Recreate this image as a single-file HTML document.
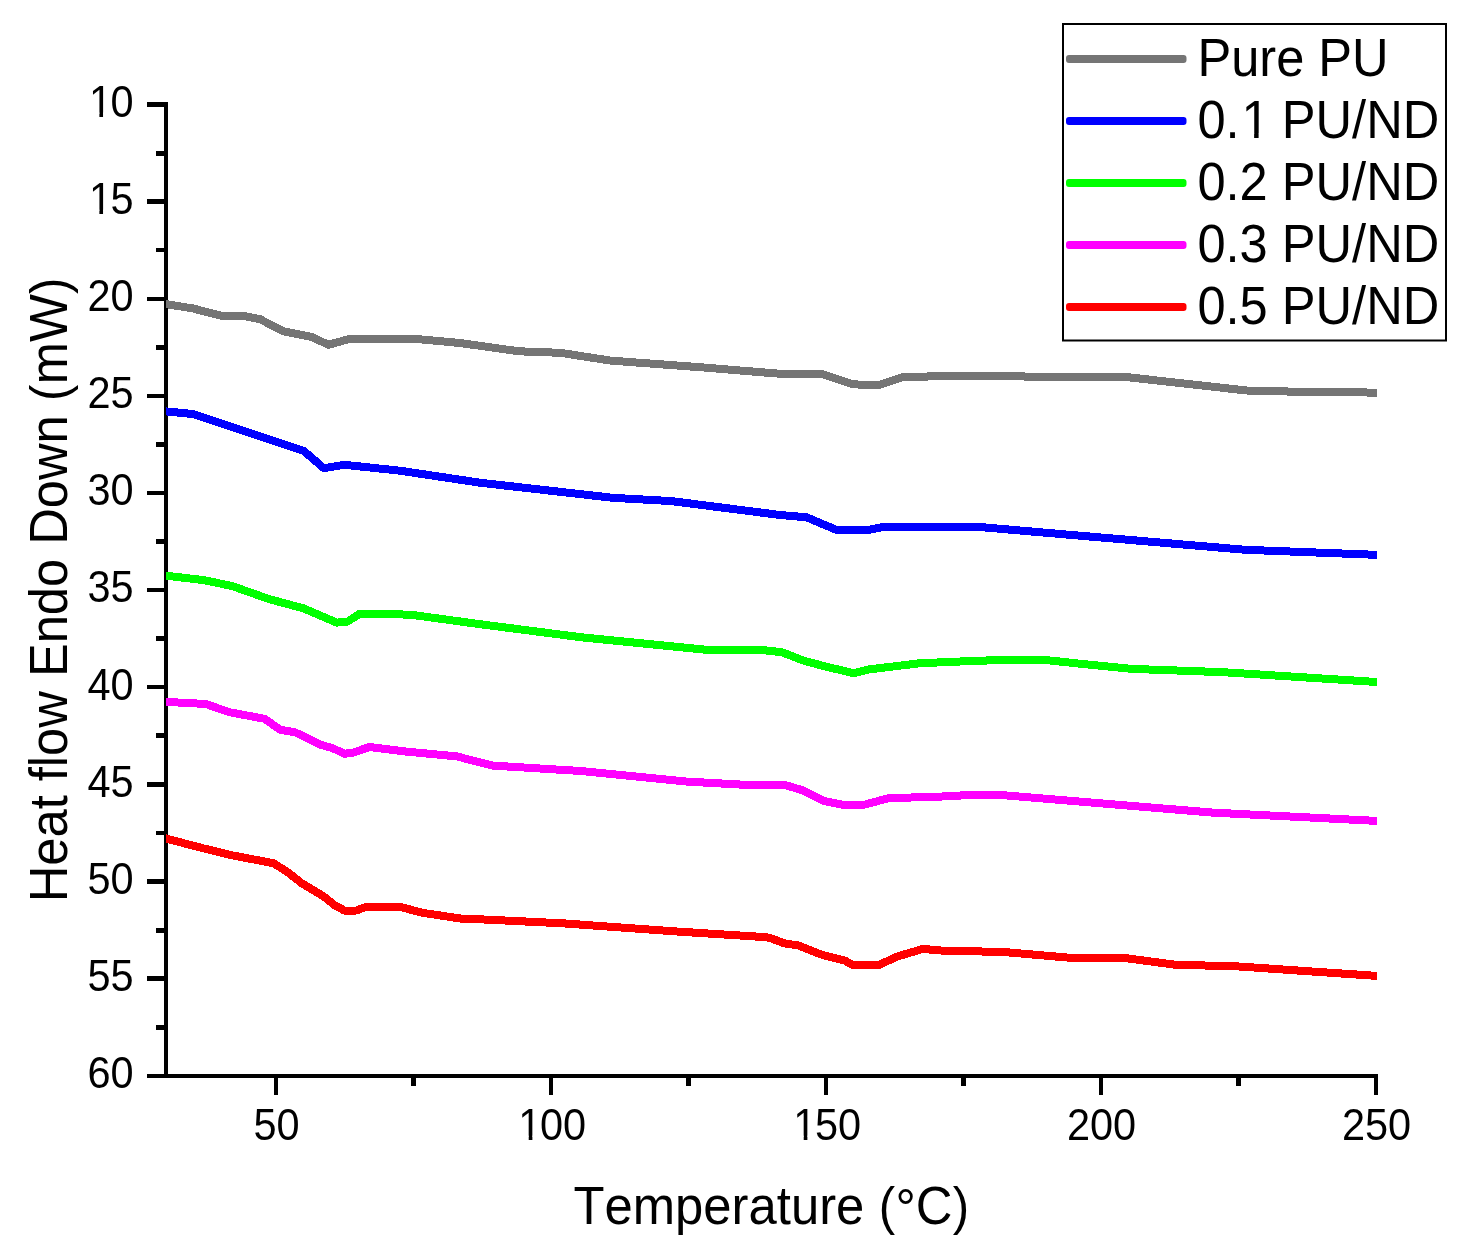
<!DOCTYPE html>
<html><head><meta charset="utf-8"><title>DSC curves</title>
<style>
html,body{margin:0;padding:0;background:#fff;}
body{width:1467px;height:1253px;overflow:hidden;}
svg{display:block;will-change:transform;}
text{font-family:"Liberation Sans",sans-serif;fill:#000;font-kerning:none;font-variant-ligatures:none;}
</style></head><body>
<svg width="1467" height="1253" viewBox="0 0 1467 1253">
<rect x="0" y="0" width="1467" height="1253" fill="#fff"/>
<g fill="#000" shape-rendering="crispEdges">
<rect x="164" y="102" width="4" height="976"/>
<rect x="164" y="1074" width="1214" height="4"/>
<rect x="147" y="102" width="17" height="5"/>
<rect x="156" y="151" width="8" height="5"/>
<rect x="147" y="199" width="17" height="5"/>
<rect x="156" y="248" width="8" height="4"/>
<rect x="147" y="297" width="17" height="4"/>
<rect x="156" y="345" width="8" height="5"/>
<rect x="147" y="394" width="17" height="4"/>
<rect x="156" y="442" width="8" height="5"/>
<rect x="147" y="491" width="17" height="4"/>
<rect x="156" y="539" width="8" height="5"/>
<rect x="147" y="588" width="17" height="4"/>
<rect x="156" y="636" width="8" height="5"/>
<rect x="147" y="685" width="17" height="4"/>
<rect x="156" y="733" width="8" height="5"/>
<rect x="147" y="782" width="17" height="5"/>
<rect x="156" y="831" width="8" height="4"/>
<rect x="147" y="879" width="17" height="5"/>
<rect x="156" y="928" width="8" height="5"/>
<rect x="147" y="976" width="17" height="5"/>
<rect x="156" y="1025" width="8" height="5"/>
<rect x="147" y="1074" width="17" height="4"/>
<rect x="274" y="1078" width="4" height="17"/>
<rect x="411" y="1078" width="5" height="8"/>
<rect x="549" y="1078" width="4" height="17"/>
<rect x="686" y="1078" width="5" height="8"/>
<rect x="824" y="1078" width="4" height="17"/>
<rect x="961" y="1078" width="5" height="8"/>
<rect x="1099" y="1078" width="4" height="17"/>
<rect x="1236" y="1078" width="5" height="8"/>
<rect x="1374" y="1078" width="4" height="17"/>
</g>
<defs>
<clipPath id="plotclip"><rect x="166" y="90" width="1211" height="1000"/></clipPath>
<path id="c-gray" d="M162.0,303.5 L166.0,304.1 L192.7,308.4 L222.2,316.0 L244.0,316.0 L260.3,319.3 L283.2,331.3 L312.0,337.0 L328.4,344.8 L349.4,338.9 L415.2,338.9 L460.0,343.0 L518.9,351.3 L560.3,352.8 L610.5,360.6 L700.0,367.2 L784.0,374.1 L822.2,374.1 L851.3,383.8 L862.0,384.9 L879.4,384.9 L903.6,376.9 L926.0,376.7 L934.0,375.8 L1019.6,375.8 L1026.0,376.7 L1123.3,376.7 L1246.5,390.5 L1291.2,391.6 L1343.6,391.6 L1376.8,392.9 L1381.0,393.1"/>
<path id="c-blue" d="M162.0,411.0 L166.0,411.4 L192.7,414.0 L303.6,450.8 L323.8,468.2 L344.3,464.8 L400.0,470.7 L480.0,482.7 L612.7,497.8 L671.6,501.1 L780.0,515.0 L806.5,517.3 L835.8,529.6 L868.5,529.9 L886.0,526.5 L973.8,526.5 L1080.0,535.7 L1245.4,549.8 L1376.0,554.8 L1381.0,555.0"/>
<path id="c-green" d="M162.0,575.2 L166.0,575.7 L203.6,580.1 L232.0,586.0 L269.1,599.1 L304.0,608.5 L336.7,622.6 L347.6,621.6 L359.6,613.7 L386.9,613.7 L413.0,615.0 L480.0,624.2 L582.2,637.4 L706.5,649.8 L765.4,650.4 L781.8,652.2 L803.6,660.6 L825.4,666.5 L853.8,673.2 L869.1,669.4 L919.3,663.3 L969.4,661.1 L1006.5,659.8 L1043.6,659.8 L1080.0,663.7 L1132.0,668.9 L1223.6,672.2 L1376.8,682.0 L1381.0,682.3"/>
<path id="c-magenta" d="M162.0,701.6 L166.0,701.8 L181.8,702.7 L205.8,704.0 L229.8,712.3 L264.7,718.8 L280.0,729.7 L295.3,732.4 L321.4,745.0 L332.3,748.0 L344.3,753.7 L352.0,753.0 L369.4,747.0 L406.5,751.6 L456.7,756.4 L492.7,765.6 L582.2,771.1 L686.9,781.6 L741.4,784.6 L785.1,785.0 L803.6,790.6 L823.3,800.9 L841.8,804.6 L864.7,804.6 L888.7,798.1 L934.5,796.9 L970.0,795.0 L1000.0,794.9 L1080.0,801.6 L1212.7,812.6 L1376.8,820.9 L1381.0,821.1"/>
<path id="c-red" d="M162.0,837.4 L166.0,838.5 L203.6,848.4 L232.0,855.3 L273.4,863.2 L286.5,871.3 L301.8,883.3 L323.6,896.4 L334.5,905.1 L344.3,910.5 L356.3,910.5 L366.2,906.8 L400.0,906.8 L421.8,912.7 L461.0,918.6 L480.0,919.3 L562.5,923.3 L678.2,931.6 L763.2,937.0 L769.8,937.8 L784.0,943.3 L798.2,945.4 L823.3,955.3 L845.1,960.7 L851.6,964.6 L880.0,964.6 L896.3,956.8 L923.6,948.7 L932.0,949.9 L952.0,951.2 L1000.0,951.7 L1077.3,958.4 L1127.6,958.4 L1175.6,964.8 L1234.5,966.2 L1376.8,975.9 L1381.0,976.2"/>
</defs>
<g fill="none" stroke-linejoin="round" stroke-linecap="butt" clip-path="url(#plotclip)">
<use href="#c-gray" stroke="#757575" stroke-width="7"/>
<use href="#c-gray" stroke="#757575" stroke-width="8" shape-rendering="crispEdges"/>
<use href="#c-blue" stroke="#0000ff" stroke-width="7"/>
<use href="#c-blue" stroke="#0000ff" stroke-width="8" shape-rendering="crispEdges"/>
<use href="#c-green" stroke="#00ff00" stroke-width="7"/>
<use href="#c-green" stroke="#00ff00" stroke-width="8" shape-rendering="crispEdges"/>
<use href="#c-magenta" stroke="#ff00ff" stroke-width="7"/>
<use href="#c-magenta" stroke="#ff00ff" stroke-width="8" shape-rendering="crispEdges"/>
<use href="#c-red" stroke="#ff0000" stroke-width="7"/>
<use href="#c-red" stroke="#ff0000" stroke-width="8" shape-rendering="crispEdges"/>
</g>
<text transform="translate(87.54,116.60) scale(1,1.07)" font-size="41.5" text-anchor="start"><tspan dx="1.4">1</tspan><tspan dx="-1.4">0</tspan></text>
<text transform="translate(87.54,213.75) scale(1,1.07)" font-size="41.5" text-anchor="start"><tspan dx="1.4">1</tspan><tspan dx="-1.4">5</tspan></text>
<text transform="translate(133.70,310.90) scale(1,1.07)" font-size="41.5" text-anchor="end">20</text>
<text transform="translate(133.70,408.05) scale(1,1.07)" font-size="41.5" text-anchor="end">25</text>
<text transform="translate(133.70,505.20) scale(1,1.07)" font-size="41.5" text-anchor="end">30</text>
<text transform="translate(133.70,602.35) scale(1,1.07)" font-size="41.5" text-anchor="end">35</text>
<text transform="translate(133.70,699.50) scale(1,1.07)" font-size="41.5" text-anchor="end">40</text>
<text transform="translate(133.70,796.65) scale(1,1.07)" font-size="41.5" text-anchor="end">45</text>
<text transform="translate(133.70,893.80) scale(1,1.07)" font-size="41.5" text-anchor="end">50</text>
<text transform="translate(133.70,990.95) scale(1,1.07)" font-size="41.5" text-anchor="end">55</text>
<text transform="translate(133.70,1088.10) scale(1,1.07)" font-size="41.5" text-anchor="end">60</text>
<text transform="translate(276.50,1139.70) scale(1,1.07)" font-size="41.5" text-anchor="middle">50</text>
<text transform="translate(516.88,1139.70) scale(1,1.07)" font-size="41.5" text-anchor="start"><tspan dx="1.4">1</tspan><tspan dx="-1.4">00</tspan></text>
<text transform="translate(791.88,1139.70) scale(1,1.07)" font-size="41.5" text-anchor="start"><tspan dx="1.4">1</tspan><tspan dx="-1.4">50</tspan></text>
<text transform="translate(1101.50,1139.70) scale(1,1.07)" font-size="41.5" text-anchor="middle">200</text>
<text transform="translate(1376.50,1139.70) scale(1,1.07)" font-size="41.5" text-anchor="middle">250</text>
<text transform="translate(771.30,1223.80) scale(1,1.05)" font-size="50.8" text-anchor="middle">Temperature <tspan font-size="49.2" dx="0.3" dy="0">(</tspan><tspan dx="0.3" dy="3.3">°</tspan><tspan dy="-3.3">C</tspan><tspan font-size="49.2" dx="0.3" dy="0">)</tspan></text>
<text transform="translate(67.00,589.90) rotate(-90) scale(1,1.05)" font-size="50.65" text-anchor="middle">Heat flow Endo Down <tspan font-size="49.2" dx="0.3" dy="0">(</tspan><tspan dx="0.3" dy="0">mW</tspan><tspan font-size="49.2" dx="0.3" dy="0">)</tspan></text>
<rect x="1063" y="24" width="383" height="316.5" fill="#fff" stroke="#000" stroke-width="2"/>
<rect x="1066" y="55" width="120.5" height="8" rx="3" ry="3" fill="#757575"/>
<text transform="translate(1197.40,76.20) scale(1,1.05)" font-size="50.6" text-anchor="start">Pure PU</text>
<rect x="1066" y="117" width="120.5" height="8" rx="3" ry="3" fill="#0000ff"/>
<text transform="translate(1197.40,138.20) scale(1,1.05)" font-size="50.6" text-anchor="start">0.<tspan dx="1.8">1</tspan><tspan dx="-1.8"> PU/ND</tspan></text>
<rect x="1066" y="179" width="120.5" height="8" rx="3" ry="3" fill="#00ff00"/>
<text transform="translate(1197.40,200.20) scale(1,1.05)" font-size="50.6" text-anchor="start">0.2 PU/ND</text>
<rect x="1066" y="241" width="120.5" height="8" rx="3" ry="3" fill="#ff00ff"/>
<text transform="translate(1197.40,262.20) scale(1,1.05)" font-size="50.6" text-anchor="start">0.3 PU/ND</text>
<rect x="1066" y="303" width="120.5" height="8" rx="3" ry="3" fill="#ff0000"/>
<text transform="translate(1197.40,324.20) scale(1,1.05)" font-size="50.6" text-anchor="start">0.5 PU/ND</text>
<rect x="90.16" y="112.58" width="9.22" height="4.92" fill="#fff"/>
<rect x="103.04" y="112.58" width="8.59" height="4.92" fill="#fff"/>
<rect x="90.16" y="209.73" width="9.22" height="4.92" fill="#fff"/>
<rect x="103.04" y="209.73" width="8.59" height="4.92" fill="#fff"/>
<rect x="519.50" y="1135.68" width="9.22" height="4.92" fill="#fff"/>
<rect x="532.38" y="1135.68" width="8.59" height="4.92" fill="#fff"/>
<rect x="794.50" y="1135.68" width="9.22" height="4.92" fill="#fff"/>
<rect x="807.38" y="1135.68" width="8.59" height="4.92" fill="#fff"/>
<rect x="1242.88" y="133.53" width="11.24" height="5.57" fill="#fff"/>
<rect x="1258.60" y="133.53" width="10.48" height="5.57" fill="#fff"/>
</svg>
</body></html>
